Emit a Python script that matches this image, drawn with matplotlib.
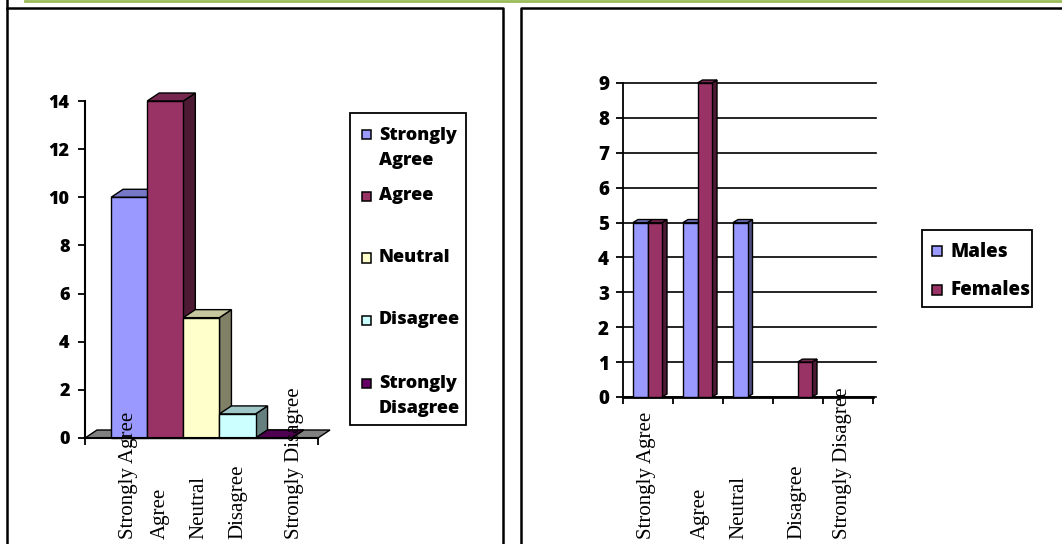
import matplotlib

matplotlib.use("Agg")
import matplotlib.pyplot as plt
from matplotlib.lines import Line2D
from matplotlib.patches import Polygon, Rectangle

# Survey responses, all respondents
responses = ["Strongly Agree", "Agree", "Neutral", "Disagree", "Strongly Disagree"]
response_counts = [10, 14, 5, 1, 0]
response_colors = ["#9999FF", "#993366", "#FFFFCC", "#CCFFFF", "#660066"]
legend_labels = ["Strongly\nAgree", "Agree", "Neutral", "Disagree", "Strongly\nDisagree"]

# Survey responses split by gender
males = [5, 5, 5, 0, 0]
females = [5, 9, 0, 1, 0]
gender_labels = ["Males", "Females"]
gender_colors = ["#9999FF", "#993366"]

W, H = 1062, 544
SANS = "Open Sans"
SERIF = "Liberation Serif"
HEAVY = 800


def fx(x):
    return x / W


def fy(y):
    return 1 - y / H


def shade(color, k):
    r, g, b = matplotlib.colors.to_rgb(color)
    return (r * k, g * k, b * k)


def bar3d(ax, x0, width, height, color, dx, dy, z):
    """Column with a front face, a top face and a right side face."""
    front = Rectangle((x0, 0), width, height, facecolor=color,
                      edgecolor="black", lw=1, zorder=z, clip_on=False)
    top = Polygon([(x0, height), (x0 + dx, height + dy),
                   (x0 + width + dx, height + dy), (x0 + width, height)],
                  closed=True, facecolor=shade(color, 0.78),
                  edgecolor="black", lw=1, zorder=z, clip_on=False)
    side = Polygon([(x0 + width, 0), (x0 + width + dx, dy),
                    (x0 + width + dx, height + dy), (x0 + width, height)],
                   closed=True, facecolor=shade(color, 0.5),
                   edgecolor="black", lw=1, zorder=z, clip_on=False)
    for p in (side, top, front):
        ax.add_patch(p)


fig = plt.figure(figsize=(W / 100, H / 100), dpi=100)

# panel frames and the green rule along the top
fig.add_artist(Line2D([fx(25), 1], [fy(0.5), fy(0.5)], color="#9BBB59", lw=2))
fig.add_artist(Line2D([fx(7), fx(7)], [fy(0), fy(544)], color="black", lw=1.8))
fig.add_artist(Line2D([fx(7), fx(503), fx(503)], [fy(8), fy(8), fy(544)],
                      color="black", lw=1.8))
fig.add_artist(Line2D([fx(521), fx(521), fx(1062)], [fy(544), fy(8), fy(8)],
                      color="black", lw=1.8))

# ---- left chart: overall responses ----
ax1 = fig.add_axes([fx(85), fy(438), 233 / W, 337 / H])
ax1.set_xlim(0, 1)
ax1.set_ylim(0, 14)
dx1 = 12 / 233
dy1 = 8 / (337 / 14)

floor = Polygon([(0, 0), (dx1, dy1), (1 + dx1, dy1), (1, 0)], closed=True,
                facecolor="#808080", edgecolor="black", lw=1, zorder=1,
                clip_on=False)
ax1.add_patch(floor)

bar_w1 = 0.155
start1 = 0.112
for i, (val, col) in enumerate(zip(response_counts, response_colors)):
    bar3d(ax1, start1 + i * bar_w1, bar_w1, val, col, dx1, dy1, 3 + i)

for s in ("top", "right"):
    ax1.spines[s].set_visible(False)
ax1.spines["left"].set_linewidth(1.5)
ax1.spines["bottom"].set_linewidth(1.5)
ax1.spines["bottom"].set_zorder(10)
ax1.set_yticks(range(0, 15, 2))
ax1.set_xticks([0, 1])
ax1.set_xticklabels([])
ax1.tick_params(axis="both", direction="out", length=5, width=1.3)
ax1.tick_params(axis="y", pad=6)
for lbl in ax1.get_yticklabels():
    lbl.set_fontfamily(SANS)
    lbl.set_fontweight(HEAVY)
    lbl.set_fontsize(13)

left_label_x = [128, 160, 199, 238, 295]
for name, xp in zip(responses, left_label_x):
    fig.text(fx(xp), fy(539), name, rotation=90, ha="center", va="bottom",
             family=SERIF, fontsize=15, zorder=20)

# legend box for the left chart
fig.add_artist(Rectangle((fx(350), fy(425)), (466 - 350) / W, (425 - 113) / H,
                         facecolor="white", edgecolor="black", lw=1.3))
left_leg_y = [135, 196, 258, 320, 383]
for lab, col, yp in zip(legend_labels, response_colors, left_leg_y):
    fig.add_artist(Rectangle((fx(362), fy(yp + 4.5)), 9 / W, 9 / H,
                             facecolor=col, edgecolor="black", lw=1.1))
    for k, line in enumerate(lab.split("\n")):
        fig.text(fx(379), fy(yp + k * 25.5), line, ha="left", va="center",
                 family=SANS, fontweight=HEAVY, fontsize=13)

# ---- right chart: responses by gender ----
ax2 = fig.add_axes([fx(623), fy(397), 250 / W, 314 / H])
ax2.set_xlim(0, 5)
ax2.set_ylim(0, 9)
dx2 = 5 / 50
dy2 = 3 / (314 / 9)

for v in range(0, 10):
    ax2.plot([0, 5.05], [v, v], color="black", lw=1.2, zorder=1, clip_on=False)

bar_w2 = 0.29
for i in range(len(responses)):
    for j, (series, col) in enumerate(zip([males, females], gender_colors)):
        if series[i] > 0:
            bar3d(ax2, i + 0.2 + j * bar_w2, bar_w2, series[i], col, dx2, dy2,
                  3 + 2 * i + j)

for s in ("top", "right"):
    ax2.spines[s].set_visible(False)
ax2.spines["left"].set_linewidth(1.3)
ax2.spines["bottom"].set_linewidth(2)
ax2.set_yticks(range(0, 10))
ax2.set_xticks(range(0, 6))
ax2.set_xticklabels([])
ax2.tick_params(axis="both", direction="out", length=5, width=1.3)
ax2.tick_params(axis="y", pad=5)
for lbl in ax2.get_yticklabels():
    lbl.set_fontfamily(SANS)
    lbl.set_fontweight(HEAVY)
    lbl.set_fontsize(13.5)

right_label_x = [647, 700, 739, 797, 843]
for name, xp in zip(responses, right_label_x):
    fig.text(fx(xp), fy(539), name, rotation=90, ha="center", va="bottom",
             family=SERIF, fontsize=15, zorder=20)

# legend box for the right chart
fig.add_artist(Rectangle((fx(922), fy(307)), (1032 - 922) / W, (307 - 230) / H,
                         facecolor="white", edgecolor="black", lw=1.3))
for lab, col, yp in zip(gender_labels, gender_colors, [252, 290]):
    fig.add_artist(Rectangle((fx(932), fy(yp + 4.5)), 10 / W, 10 / H,
                             facecolor=col, edgecolor="black", lw=1.1))
    fig.text(fx(950), fy(yp), lab, ha="left", va="center",
             family=SANS, fontweight=HEAVY, fontsize=13.5)

fig.savefig("out.png", dpi=100)
plt.close(fig)
